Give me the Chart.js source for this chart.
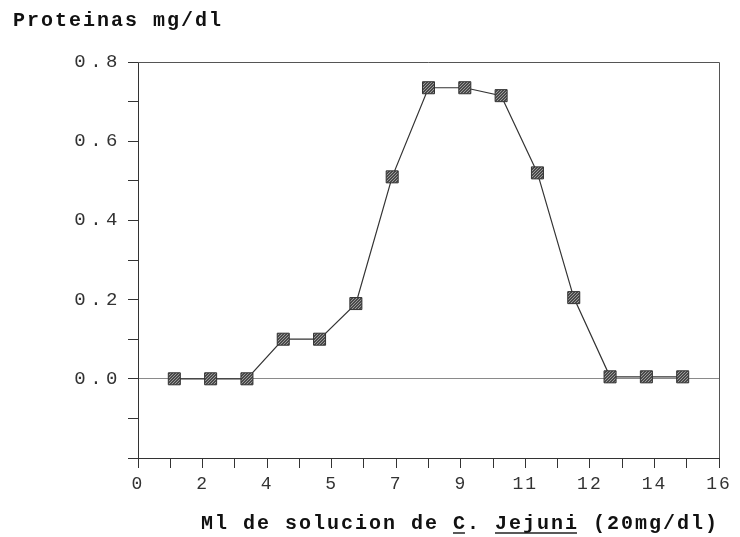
<!DOCTYPE html>
<html>
<head>
<meta charset="utf-8">
<script src="https://cdn.jsdelivr.net/npm/chart.js@4.4.0/dist/chart.umd.min.js"></script>
<style>
  body { margin: 0; background: #fff; }
</style>
</head>
<body>
<canvas id="protein-chart" width="740" height="537"></canvas>
<script>
// data
const mlValues = [1, 2, 3, 4, 5, 6, 7, 8, 9, 10, 11, 12, 13, 14, 15];
const proteinValues = [0, 0, 0, 0.1, 0.1, 0.19, 0.51, 0.735, 0.735, 0.715, 0.52, 0.205, 0.005, 0.005, 0.005];
const xTickLabels = ["0", "2", "4", "5", "7", "9", "11", "12", "14", "16"];
const yTitle = "Proteinas mg/dl";
const xTitle = "Ml de solucion de C. Jejuni (20mg/dl)";
const underlined = ["C.", "Jejuni"];

const mono = "'Liberation Mono', 'Courier New', monospace";

// linear scale that can space out its letters like the typewriter font
class SpacedLinearScale extends Chart.LinearScale {
  drawLabels(area) {
    this.ctx.save();
    this.ctx.letterSpacing = this.options.ticks.spacing || "0px";
    super.drawLabels(area);
    this.ctx.restore();
  }
  drawTitle() {
    this.ctx.save();
    this.ctx.letterSpacing = this.options.title.spacing || "0px";
    super.drawTitle();
    this.ctx.restore();
  }
}
SpacedLinearScale.id = "spacedLinear";
SpacedLinearScale.defaults = Chart.LinearScale.defaults;
Chart.register(SpacedLinearScale);

// mottled grey fill for the square markers
const tile = document.createElement("canvas");
tile.width = 3;
tile.height = 3;
const tctx = tile.getContext("2d");
tctx.fillStyle = "#4a4a4a";
tctx.fillRect(0, 0, 3, 3);
tctx.fillStyle = "#9c9c9c";
tctx.fillRect(0, 0, 1, 1);
tctx.fillRect(2, 1, 1, 1);
tctx.fillRect(1, 2, 1, 1);
const ctx = document.getElementById("protein-chart");
const markerFill = ctx.getContext("2d").createPattern(tile, "repeat");

const spacingPlugin = {
  id: "spacing",
  beforeDraw(chart) {
    chart.ctx.letterSpacing = "2px";
  },
  afterDraw(chart) {
    chart.ctx.letterSpacing = "0px";
  },
};

const framePlugin = {
  id: "frame",
  beforeDatasetsDraw(chart) {
    const { left, right, top, bottom } = chart.chartArea;
    const c = chart.ctx;
    c.save();
    c.strokeStyle = "#555";
    c.lineWidth = 1;
    c.beginPath();
    c.moveTo(left, top + 0.5);
    c.lineTo(right + 0.5, top + 0.5);
    c.lineTo(right + 0.5, bottom);
    c.stroke();
    c.restore();
  },
};

const underlinePlugin = {
  id: "underline",
  afterDraw(chart) {
    const c = chart.ctx;
    const scale = chart.scales.x;
    c.save();
    c.letterSpacing = "0px";
    c.font = "bold 20px " + mono;
    const pitch = c.measureText(xTitle).width / xTitle.length + 2;
    const start = scale.right - pitch * xTitle.length;
    c.strokeStyle = "#222";
    c.lineWidth = 1.5;
    underlined.forEach((word) => {
      const i = xTitle.indexOf(word);
      const n = word.replace(".", "").length;
      c.beginPath();
      c.moveTo(start + i * pitch, 533);
      c.lineTo(start + (i + n) * pitch - 2, 533);
      c.stroke();
    });
    c.restore();
  },
};

new Chart(ctx, {
  type: "line",
  data: {
    datasets: [
      {
        data: mlValues.map((x, i) => ({ x: x, y: proteinValues[i] })),
        borderColor: "#333",
        borderWidth: 1.2,
        tension: 0,
        pointStyle: "rect",
        pointRadius: 8.5,
        pointBackgroundColor: markerFill,
        pointBorderColor: "#333",
        pointBorderWidth: 1,
      },
    ],
  },
  options: {
    responsive: false,
    animation: false,
    layout: { padding: { left: 13, right: 21, top: 0, bottom: 0 } },
    plugins: {
      legend: { display: false },
      tooltip: { enabled: false },
      title: {
        display: true,
        text: yTitle,
        align: "start",
        color: "#111",
        font: { family: mono, size: 20, weight: "bold" },
        padding: { top: 9, bottom: 29 },
      },
    },
    scales: {
      x: {
        type: "spacedLinear",
        min: 0,
        max: 16,
        afterFit: (s) => { s.height = 79; },
        border: { color: "#333", width: 1 },
        grid: { drawOnChartArea: false, tickLength: 10, tickColor: "#333" },
        ticks: {
          stepSize: 8 / 9,
          autoSkip: false,
          maxRotation: 0,
          padding: 5,
          spacing: "2px",
          color: "#333",
          font: { family: mono, size: 18 },
          callback: (v, i) => (i % 2 === 0 ? xTickLabels[i / 2] : ""),
        },
        title: {
          display: true,
          text: xTitle,
          align: "end",
          spacing: "2px",
          color: "#111",
          font: { family: mono, size: 20, weight: "bold" },
          padding: { top: 0, bottom: 1 },
        },
      },
      y: {
        type: "spacedLinear",
        min: -0.2,
        max: 0.8,
        afterFit: (s) => { s.width = 125; },
        border: { color: "#333", width: 1 },
        grid: {
          tickLength: 10,
          tickColor: "#333",
          color: (c) => (c.tick && Math.round(c.tick.value * 10) === 0 ? "#8a8a8a" : "rgba(0,0,0,0)"),
        },
        ticks: {
          stepSize: 0.1,
          autoSkip: false,
          padding: 6,
          spacing: "4.5px",
          color: "#333",
          font: { family: mono, size: 19 },
          callback: (v) => {
            const t = Math.round(v * 10);
            return t >= 0 && t % 2 === 0 ? (t / 10).toFixed(1) : "";
          },
        },
      },
    },
  },
  plugins: [spacingPlugin, framePlugin, underlinePlugin],
});
</script>
</body>
</html>
